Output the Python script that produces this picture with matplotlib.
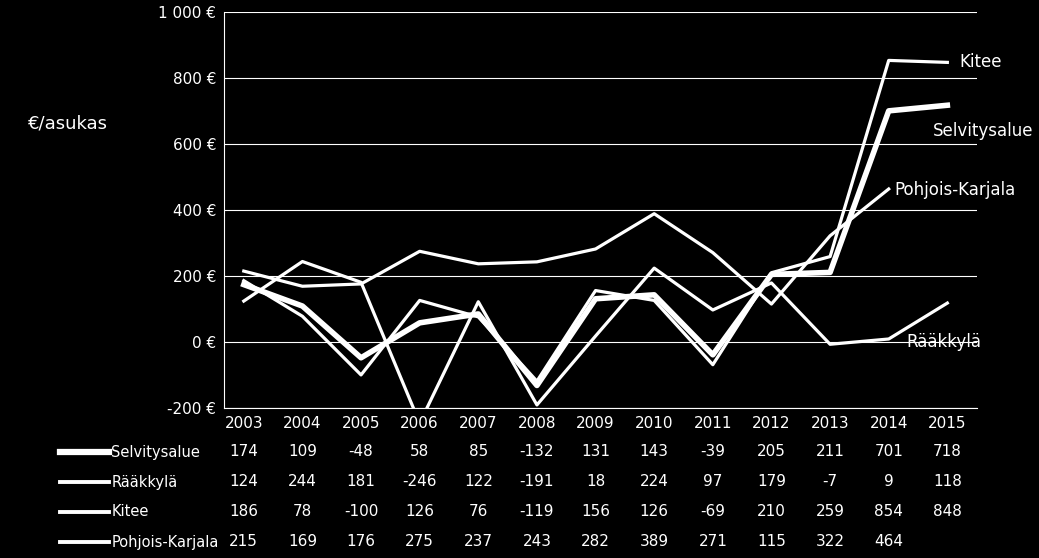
import matplotlib; matplotlib.use('Agg')
import matplotlib.pyplot as plt
import matplotlib.transforms as mtransforms
from matplotlib.lines import Line2D
from matplotlib.ticker import FuncFormatter

years = ['2003','2004','2005','2006','2007','2008','2009','2010','2011','2012','2013','2014','2015']
selvitysalue = [174,109,-48,58,85,-132,131,143,-39,205,211,701,718]
raakkyla = [124,244,181,-246,122,-191,18,224,97,179,-7,9,118]
kitee = [186,78,-100,126,76,-119,156,126,-69,210,259,854,848]
pohjois_karjala = [215,169,176,275,237,243,282,389,271,115,322,464,None]

series = [('Selvitysalue', selvitysalue, 4.0), ('Rääkkylä', raakkyla, 2.3),
          ('Kitee', kitee, 2.3), ('Pohjois-Karjala', pohjois_karjala, 2.3)]

plt.rcParams['font.family'] = 'DejaVu Sans'
fig = plt.figure(figsize=(10.39, 5.58), dpi=100, facecolor='black')
ax = fig.add_axes([0.216, 0.269, 0.724, 0.709], facecolor='black')
x = list(range(len(years)))
for name, vals, lw in series:
    xs = [i for i, v in zip(x, vals) if v is not None]
    ys = [v for v in vals if v is not None]
    ax.plot(xs, ys, color='white', lw=lw, solid_joinstyle='round')
ax.set_xlim(-0.33, 12.5); ax.set_ylim(-200, 1000)
ax.set_yticks(range(-200, 1001, 200))
ax.yaxis.set_major_formatter(FuncFormatter(lambda v, p: f'{int(v):,} €'.replace(',', ' ')))
ax.yaxis.grid(True, color='white', lw=0.8)
ax.set_axisbelow(True)
ax.set_xticks(x); ax.set_xticklabels(years)
ax.tick_params(axis='both', length=0, pad=6, labelcolor='white', labelsize=11)
for s in ['top', 'right']: ax.spines[s].set_visible(False)
ax.spines['left'].set_color('white'); ax.spines['bottom'].set_color('white')

fig.text(0.027, 0.77, '€/asukas', color='white', fontsize=13)
for txt, xx, yy in [('Kitee', 12.2, 850), ('Selvitysalue', 11.75, 640),
                    ('Pohjois-Karjala', 11.1, 460), ('Rääkkylä', 11.3, 0)]:
    ax.text(xx, yy, txt, color='white', fontsize=12, va='center')

trans = mtransforms.blended_transform_factory(ax.transData, fig.transFigure)
row_y = [1 - 452/558, 1 - 482/558, 1 - 512/558, 1 - 542/558]
for (name, vals, lw), ry in zip(series, row_y):
    fig.add_artist(Line2D([0.058, 0.105], [ry, ry], color='white', lw=lw + 0.5))
    fig.text(0.107, ry, name, color='white', fontsize=10.5, va='center')
    for i, v in enumerate(vals):
        if v is not None:
            ax.text(i, ry, str(v), transform=trans, color='white', fontsize=11,
                    ha='center', va='center', clip_on=False)
fig.savefig('out.png', dpi=100, facecolor='black')
